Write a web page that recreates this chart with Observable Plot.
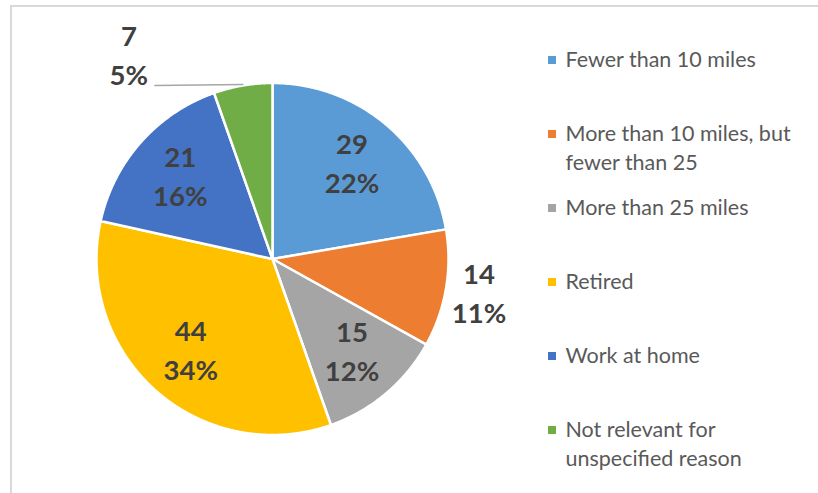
<!DOCTYPE html>
<html>
<head>
<meta charset="utf-8">
<script src="https://cdn.jsdelivr.net/npm/d3@7"></script>
<script src="https://cdn.jsdelivr.net/npm/@observablehq/plot@0.6"></script>
<style>
  html, body { margin: 0; padding: 0; background: #fff; }
  #wrap { position: relative; width: 818px; height: 493px; overflow: hidden; }
  #border { position: absolute; left: 10px; top: 5px; width: 900px; height: 600px; border: 2px solid #d9d9d9; box-sizing: border-box; }
  #chart { position: absolute; left: 0; top: 0; }
</style>
</head>
<body>
<div id="wrap"><div id="border"></div><div id="chart"></div></div>
<script>
// ---- data ----
const categories = [
  "Fewer than 10 miles",
  "More than 10 miles, but fewer than 25",
  "More than 25 miles",
  "Retired",
  "Work at home",
  "Not relevant for unspecified reason"
];
const counts = [29, 14, 15, 44, 21, 7];
const legendLines = [
  ["Fewer than 10 miles"],
  ["More than 10 miles, but", "fewer than 25"],
  ["More than 25 miles"],
  ["Retired"],
  ["Work at home"],
  ["Not relevant for", "unspecified reason"]
];
const colors = ["#5B9BD5", "#ED7D31", "#A5A5A5", "#FFC000", "#4472C4", "#70AD47"];
// label placement style: "inside", "outside", "callout"
const labelPlacement = ["inside", "outside", "inside", "inside", "inside", "callout"];

// ---- layout ----
const W = 818, H = 493;
const cx = 272, cy = 258.5, R = 176;
const font = "Lato, 'Open Sans', sans-serif";

const total = d3.sum(counts);
const pieGen = d3.pie().sort(null).value(d => d)(counts);

const polar = (a, r) => ({x: cx + Math.sin(a) * r, y: cy - Math.cos(a) * r});

const sliceMarks = pieGen.map((p, i) => {
  const pts = [{x: cx, y: cy}];
  const n = Math.max(2, Math.ceil((p.endAngle - p.startAngle) / 0.005));
  for (let k = 0; k <= n; k++) {
    const a = p.startAngle + (p.endAngle - p.startAngle) * k / n;
    pts.push(polar(a, R));
  }
  pts.push({x: cx, y: cy});
  return Plot.line(pts, {x: "x", y: "y", fill: colors[i], stroke: "white", strokeWidth: 2.5, strokeLinejoin: "round"});
});

const labels = [];
const leaders = [];
pieGen.forEach((p, i) => {
  const mid = (p.startAngle + p.endAngle) / 2;
  const pct = Math.round(counts[i] / total * 100) + "%";
  let pos;
  if (labelPlacement[i] === "inside") pos = polar(mid, R * 0.7);
  else if (labelPlacement[i] === "outside") pos = polar(mid, R * 1.19);
  else {
    const edge = polar(mid, R);
    pos = {x: edge.x - 114, y: edge.y - 29};
    leaders.push({x: edge.x, y: edge.y - 1}, {x: pos.x + 26, y: edge.y});
  }
  labels.push({x: pos.x, y: pos.y - 19.5, text: String(counts[i])});
  labels.push({x: pos.x, y: pos.y + 19.5, text: pct});
});

const legendTop = 60, legendStep = 74, lineStep = 28.5;
const legendSwatches = categories.map((c, i) => ({
  x1: 548, x2: 556, y1: legendTop + i * legendStep - 4, y2: legendTop + i * legendStep + 4, color: colors[i]
}));
const legendText = [];
legendLines.forEach((lines, i) => lines.forEach((t, j) => legendText.push({
  x: 565, y: legendTop + i * legendStep + j * lineStep, text: t
})));

const chart = Plot.plot({
  width: W, height: H,
  margin: 0,
  x: {type: "identity", axis: null},
  y: {type: "identity", axis: null},
  style: {fontFamily: font, background: "transparent"},
  marks: [
    ...sliceMarks,
    Plot.line(leaders, {x: "x", y: "y", stroke: "#a6a6a6", strokeWidth: 1.5}),
    Plot.text(labels, {x: "x", y: "y", text: "text", fontSize: 27.5, fontWeight: "bold", fill: "#404040"}),
    Plot.rect(legendSwatches, {x1: "x1", x2: "x2", y1: "y1", y2: "y2", fill: "color"}),
    Plot.text(legendText, {x: "x", y: "y", text: "text", textAnchor: "start", fontSize: 21.5, fill: "#595959"})
  ]
});
document.getElementById("chart").appendChild(chart);
</script>
</body>
</html>
